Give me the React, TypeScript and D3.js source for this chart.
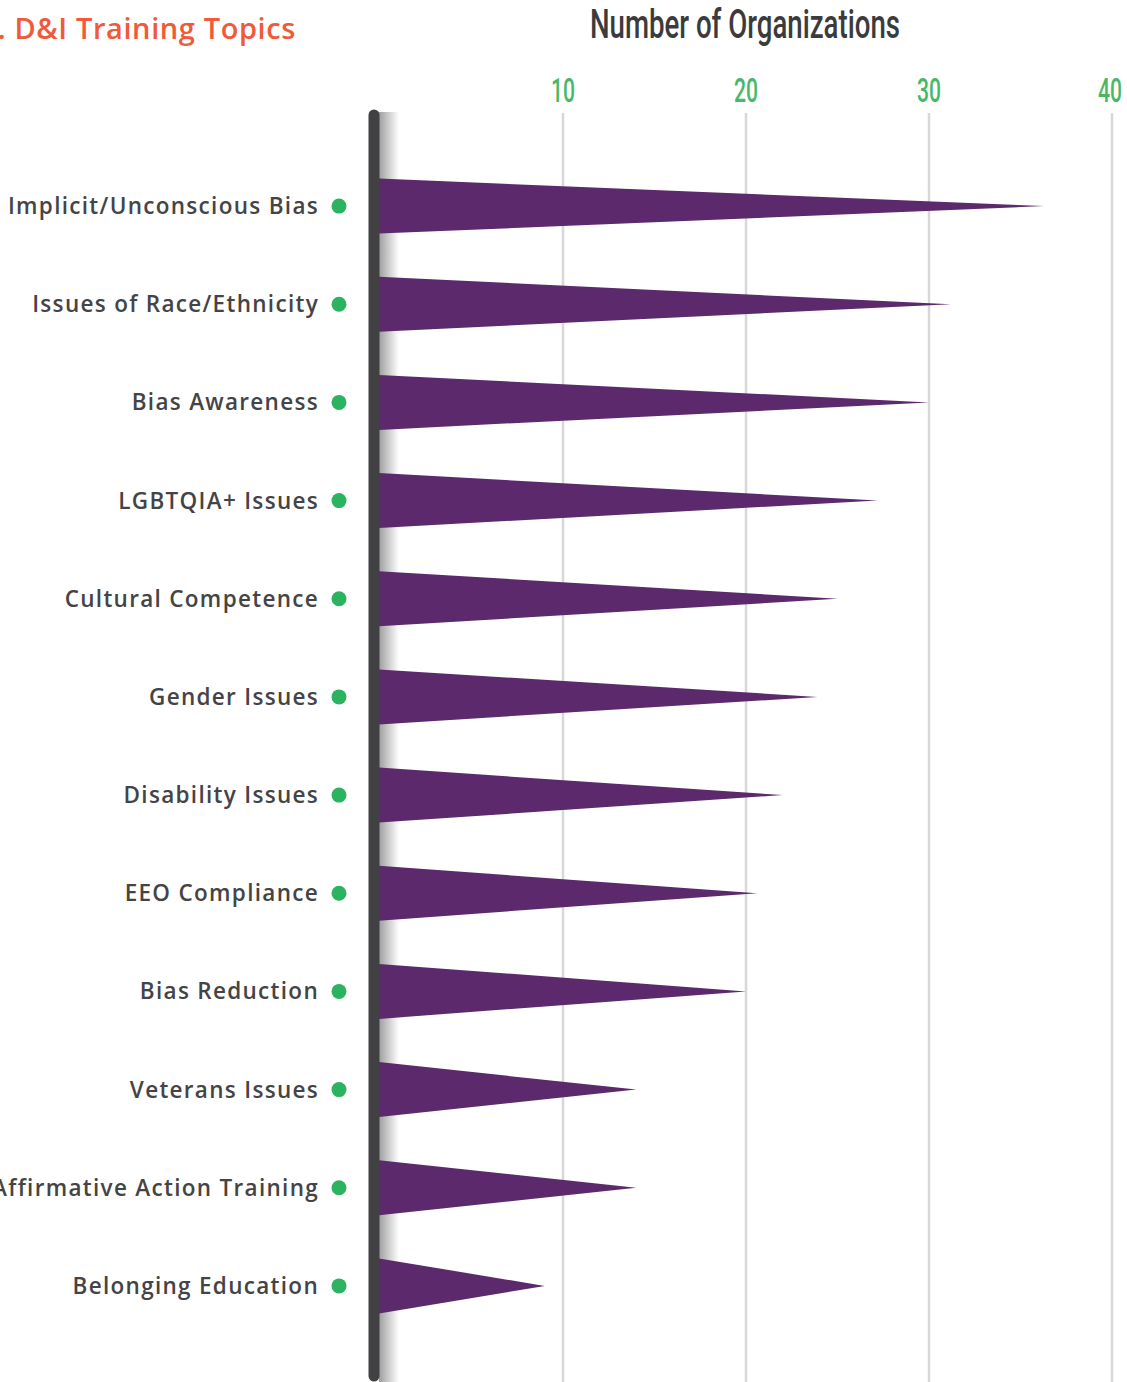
import React from "react";
import * as d3 from "d3";

const categories = [
  "Implicit/Unconscious Bias",
  "Issues of Race/Ethnicity",
  "Bias Awareness",
  "LGBTQIA+ Issues",
  "Cultural Competence",
  "Gender Issues",
  "Disability Issues",
  "EEO Compliance",
  "Bias Reduction",
  "Veterans Issues",
  "Affirmative Action Training",
  "Belonging Education",
];
const values = [36.3, 31.2, 30, 27.2, 25, 23.9, 22, 20.6, 20, 14, 14, 9];
const ticks = [10, 20, 30, 40];
const title = "1. D&I Training Topics";
const axisTitle = "Number of Organizations";

export default function App() {
  const W = 1127;
  const H = 1382;
  const x = d3.scaleLinear().domain([0, 40]).range([380, 1112]);
  const y = d3
    .scaleBand<string>()
    .domain(categories)
    .range([157, 1335])
    .paddingInner(0.44)
    .paddingOuter(0.22);
  const bw = y.bandwidth();
  const tri = (v: number, c: string) => {
    const y0 = y(c)!;
    const p = d3.path();
    p.moveTo(x(0) - 1, y0);
    p.lineTo(x(v), y0 + bw / 2);
    p.lineTo(x(0) - 1, y0 + bw);
    p.closePath();
    return p.toString();
  };
  return (
    <svg
      width={W}
      height={H}
      style={{ position: "absolute", left: 0, top: 0, background: "#fff" }}
    >
      <defs>
        <linearGradient id="sh" x1="0" x2="1" y1="0" y2="0">
          <stop offset="0" stopColor="#000" stopOpacity={0.38} />
          <stop offset="1" stopColor="#000" stopOpacity={0} />
        </linearGradient>
      </defs>
      <text
        x={296}
        y={39}
        textAnchor="end"
        fill="#f05a3b"
        fontFamily="'Open Sans', 'Noto Sans', sans-serif"
        fontWeight={600}
        fontSize={29}
        letterSpacing={0.6}
      >
        {title}
      </text>
      <text
        x={590}
        y={38}
        textLength={310}
        lengthAdjust="spacingAndGlyphs"
        fill="#3b3b3d"
        fontFamily="Roboto, sans-serif"
        fontWeight={500}
        fontSize={41}
      >
        {axisTitle}
      </text>
      {ticks.map((t, i) => (
        <g key={t}>
          <line
            x1={x(t)}
            x2={x(t)}
            y1={113}
            y2={H}
            stroke="#d8d8d8"
            strokeWidth={2.5}
          />
          <text
            x={i === ticks.length - 1 ? x(t) - 2 : x(t)}
            y={102}
            textAnchor="middle"
            textLength={24}
            lengthAdjust="spacingAndGlyphs"
            fill="#48b866"
            fontFamily="Roboto, sans-serif"
            fontWeight={500}
            fontSize={34}
          >
            {t}
          </text>
        </g>
      ))}
      <rect x={379} y={112} width={20} height={H - 112} fill="url(#sh)" />
      {categories.map((c, i) => (
        <g key={c}>
          <path d={tri(values[i], c)} fill="#5c296c" />
          <text
            x={319}
            y={y(c)! + bw / 2 + 8}
            textAnchor="end"
            fill="#444446"
            fontFamily="'Open Sans', 'Noto Sans', sans-serif"
            fontWeight={600}
            fontSize={22.5}
            letterSpacing={1.3}
          >
            {c}
          </text>
          <circle cx={339} cy={y(c)! + bw / 2} r={7.5} fill="#2bb35f" />
        </g>
      ))}
      <line
        x1={374}
        x2={374}
        y1={115}
        y2={1376}
        stroke="#414143"
        strokeWidth={11}
        strokeLinecap="round"
      />
    </svg>
  );
}
